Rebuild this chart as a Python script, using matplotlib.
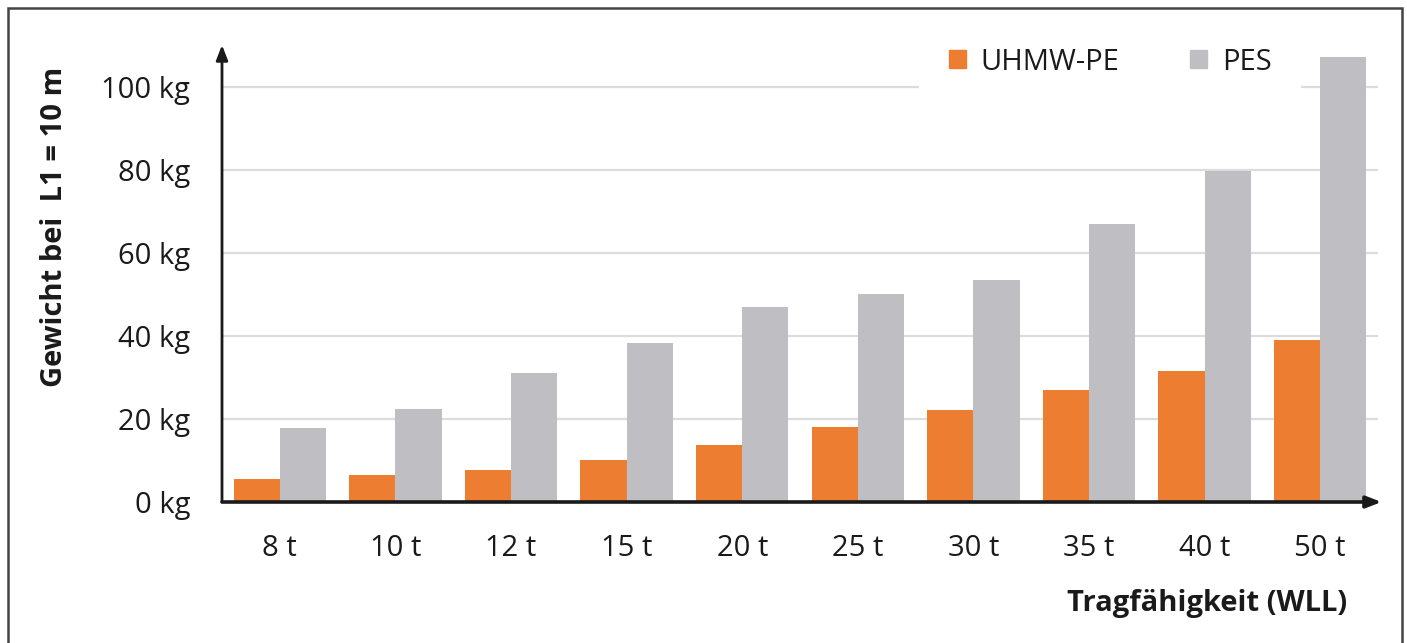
import matplotlib
matplotlib.use("Agg")
import matplotlib.pyplot as plt
from matplotlib.patches import Rectangle, Patch
import numpy as np

categories = ["8 t", "10 t", "12 t", "15 t", "20 t", "25 t", "30 t", "35 t", "40 t", "50 t"]
uhmw_pe = [5.5, 6.5, 7.7, 10.1, 13.7, 18.0, 22.1, 27.0, 31.5, 39.0]
pes = [17.8, 22.4, 31.0, 38.2, 46.9, 50.0, 53.4, 66.8, 79.6, 107.0]
yticks = [0, 20, 40, 60, 80, 100]
ytick_labels = ["0 kg", "20 kg", "40 kg", "60 kg", "80 kg", "100 kg"]

ORANGE = "#ED7D31"
GREY = "#BFBFC3"
DARK = "#1a1a1a"
FS = 21
plt.rcParams['font.family'] = ['Open Sans', 'DejaVu Sans']

W, H = 1407, 643
fig = plt.figure(figsize=(W / 100, H / 100), dpi=100)
fig.patches.append(Rectangle((8 / W, -0.05), (1402 - 8) / W, 1.05 - 8 / H,
                             transform=fig.transFigure, fill=False,
                             edgecolor="#444444", linewidth=1.8))

ax = fig.add_axes([222 / W, (H - 502) / H, (1378 - 222) / W, (502 - 45) / H])
x = np.arange(len(categories))
bw = 0.4
ax.bar(x - bw / 2, uhmw_pe, bw, color=ORANGE, label="UHMW-PE", zorder=3)
ax.bar(x + bw / 2, pes, bw, color=GREY, label="PES", zorder=3)

ax.set_xlim(-0.5, len(categories) - 0.5)
ax.set_ylim(0, 110)
ax.set_yticks(yticks)
ax.set_yticklabels(ytick_labels)
ax.set_xticks(x)
ax.set_xticklabels(categories)
ax.tick_params(axis="both", length=0, labelsize=FS, colors="#1a1a1a")
ax.tick_params(axis="y", pad=23)
ax.tick_params(axis="x", pad=23)
ax.grid(axis="y", color="#dcdcdc", linewidth=1.6, zorder=0)
ax.set_axisbelow(True)
for s in ax.spines.values():
    s.set_visible(False)

# axis arrows
ax.annotate("", xy=(0, 1.0), xytext=(0, 0), xycoords="axes fraction",
            arrowprops=dict(arrowstyle="-|>,head_width=0.35,head_length=0.9",
                            color=DARK, lw=2, shrinkA=0, shrinkB=0), zorder=5)
ax.annotate("", xy=(1.003, 0), xytext=(0, 0), xycoords="axes fraction",
            arrowprops=dict(arrowstyle="-|>,head_width=0.35,head_length=0.9",
                            color=DARK, lw=2.6, shrinkA=0, shrinkB=0), zorder=5)

fig.text(55 / W, 1 - 227 / H, "Gewicht bei  L1 = 10 m", rotation=90,
         ha="center", va="center", fontsize=FS, fontweight="bold", color=DARK)
fig.text(1347 / W, 1 - 603 / H, "Tragfähigkeit (WLL)", ha="right", va="center",
         fontsize=FS, fontweight="bold", color=DARK)

handles = [Patch(color=ORANGE, label="UHMW-PE"), Patch(color=GREY, label="PES")]
leg = ax.legend(handles=handles, ncol=2, loc="center", bbox_to_anchor=(1110 / W, 1 - 62 / H),
                bbox_transform=fig.transFigure, frameon=True, fontsize=FS,
                handlelength=0.6, handleheight=0.6, handletextpad=0.5,
                columnspacing=2.4, borderpad=1.0, facecolor="white", edgecolor="none", framealpha=1)
leg.set_zorder(4)
for t in leg.get_texts():
    t.set_color(DARK)

fig.savefig("out.png", dpi=100)
